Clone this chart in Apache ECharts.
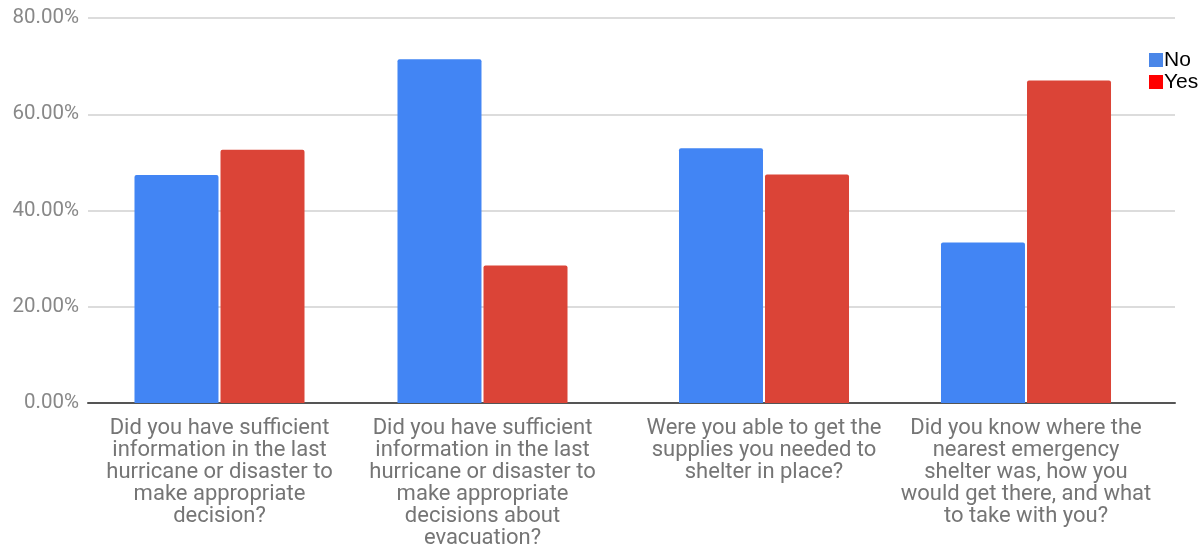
<!DOCTYPE html>
<html>
<head>
<meta charset="utf-8">
<script src="https://cdn.jsdelivr.net/npm/echarts@6/dist/echarts.min.js"></script>
<style>html,body{margin:0;padding:0;background:#fff}#c{width:1201px;height:546px}</style>
</head>
<body>
<div id="c"></div>
<script>
var categoriesLeft = [
  "Did you have sufficient\ninformation in the last\nhurricane or disaster to\nmake appropriate\ndecision?",
  "Did you have sufficient\ninformation in the last\nhurricane or disaster to\nmake appropriate\ndecisions about\nevacuation?"
];
var categoriesRight = [
  "Were you able to get the\nsupplies you needed to\nshelter in place?",
  "Did you know where the\nnearest emergency\nshelter was, how you\nwould get there, and what\nto take with you?"
];
var noLeft = [47.37, 71.43];
var yesLeft = [52.63, 28.57];
var noRight = [52.94, 33.33];
var yesRight = [47.5, 67.0];
var yTicks = [0, 20, 40, 60, 80];

var labelStyle = {color:'#757575', fontFamily:'Roboto', fontSize:22, lineHeight:22, margin:14, interval:0};
var blue = '#4285F4', red = '#DB4437';
var chart = echarts.init(document.getElementById('c'));
chart.setOption({
  animation:false,
  legend:{
    orient:'vertical', left:1144, top:44, itemWidth:14, itemHeight:14, itemGap:0,
    textStyle:{color:'#000', fontFamily:'Arial', fontSize:21, lineHeight:22, padding:[0,0,0,-4]},
    data:[{name:'No', icon:'rect', itemStyle:{color:'#4a86e8'}}, {name:'Yes', icon:'rect', itemStyle:{color:'#ff0000'}}]
  },
  grid:[
    {left:88, width:526, top:18, bottom:143, containLabel:false, outerBoundsMode:'none'},
    {left:633, width:524, top:18, bottom:143, containLabel:false, outerBoundsMode:'none'},
    {left:614, width:561, top:18, bottom:143, containLabel:false, outerBoundsMode:'none'}
  ],
  xAxis:[
    {type:'category', gridIndex:0, data:categoriesLeft, axisTick:{show:false},
     axisLine:{lineStyle:{color:'#555', width:2}}, axisLabel:labelStyle},
    {type:'category', gridIndex:1, data:categoriesRight, axisTick:{show:false},
     axisLine:{show:false}, axisLabel:labelStyle},
    {type:'value', gridIndex:2, min:0, max:1, axisTick:{show:false}, splitLine:{show:false},
     axisLabel:{show:false}, axisLine:{show:true, lineStyle:{color:'#555', width:2}}}
  ],
  yAxis:[
    {type:'value', gridIndex:0, min:yTicks[0], max:yTicks[yTicks.length-1], interval:20,
     axisLabel:{formatter:function(v){return v.toFixed(2)+'%';}, color:'#888', fontFamily:'Roboto', fontSize:20.5, margin:9},
     splitLine:{lineStyle:{color:'#dcdcdc', width:2}}, axisLine:{show:false}, axisTick:{show:false}},
    {type:'value', gridIndex:1, min:0, max:80, interval:20, axisLabel:{show:false},
     splitLine:{show:false}, axisLine:{show:false}, axisTick:{show:false}},
    {type:'value', gridIndex:2, min:0, max:80, interval:20, axisLabel:{show:false},
     splitLine:{lineStyle:{color:'#dcdcdc', width:2}}, axisLine:{show:false}, axisTick:{show:false}}
  ],
  series:[
    {name:'No', type:'bar', xAxisIndex:0, yAxisIndex:0, data:noLeft, barWidth:84, barGap:'2.4%', itemStyle:{color:blue, borderRadius:[2,2,0,0]}, z:3},
    {name:'Yes', type:'bar', xAxisIndex:0, yAxisIndex:0, data:yesLeft, barWidth:84, barGap:'2.4%', itemStyle:{color:red, borderRadius:[2,2,0,0]}, z:3},
    {name:'No', type:'bar', xAxisIndex:1, yAxisIndex:1, data:noRight, barWidth:84, barGap:'2.4%', itemStyle:{color:blue, borderRadius:[2,2,0,0]}, z:3},
    {name:'Yes', type:'bar', xAxisIndex:1, yAxisIndex:1, data:yesRight, barWidth:84, barGap:'2.4%', itemStyle:{color:red, borderRadius:[2,2,0,0]}, z:3}
  ]
});
</script>
</body>
</html>
